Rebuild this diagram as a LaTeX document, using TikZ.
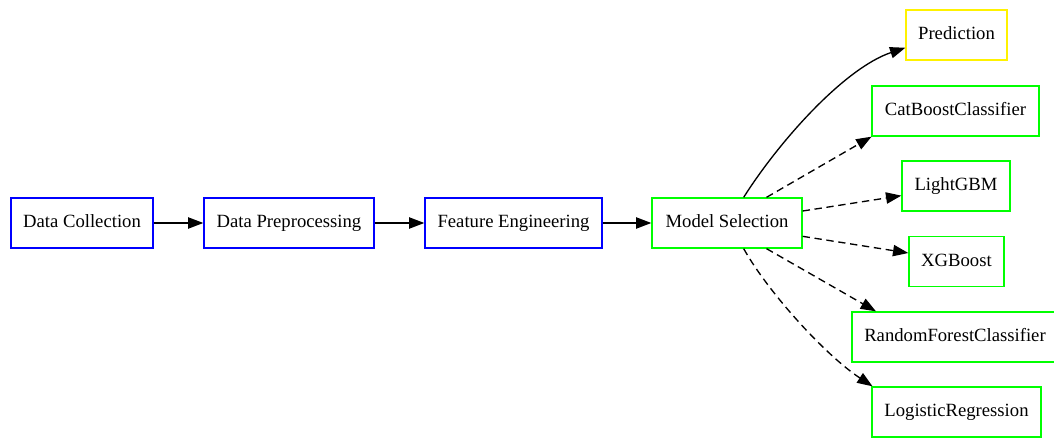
\documentclass[tikz,border=0pt]{standalone}
\usepackage{fontspec}
\setmainfont{Liberation Serif}
\usetikzlibrary{arrows.meta}
\begin{document}
\begin{tikzpicture}[x=0.75pt,y=-0.75pt,
  box/.style={draw, line width=1pt, inner sep=0pt, minimum height=37.5pt, text height=10pt, text depth=3pt, font=\fontsize{14pt}{16pt}\selectfont},
  bluebox/.style={box, draw=blue},
  greenbox/.style={box, draw=green},
  yellowbox/.style={box, draw=yellow},
  arr/.style={line width=1pt, -{Triangle[length=11.5pt,width=8.5pt]}},
  darr/.style={arr, dash pattern=on 5.5pt off 3.5pt}]
\clip (0,0) rectangle (1054,438);
\node[bluebox, minimum width=106.5pt] (dc) at (82,223) {Data Collection};
\node[bluebox, minimum width=127.5pt] (dp) at (289,223) {Data Preprocessing};
\node[bluebox, minimum width=132.75pt] (fe) at (513.5,223) {Feature Engineering};
\node[greenbox, minimum width=112.5pt] (ms) at (727,223) {Model Selection};
\node[yellowbox, minimum width=75.75pt] (pr) at (956.5,35) {Prediction};
\node[greenbox, minimum width=125.25pt] (cb) at (955.5,111) {CatBoostClassifier};
\node[greenbox, minimum width=81pt] (lg) at (956,186) {LightGBM};
\node[greenbox, minimum width=71.25pt] (xg) at (956.5,261.5) {XGBoost};
\node[greenbox, minimum width=154.5pt] (rf) at (955,337) {RandomForestClassifier};
\node[greenbox, minimum width=126.75pt] (lr) at (956.5,412) {LogisticRegression};
\draw[arr] (dc) -- (dp);
\draw[arr] (dp) -- (fe);
\draw[arr] (fe) -- (ms);
\draw[arr] (ms.57) .. controls (780,140) and (845,68) .. (pr.194);
\draw[darr] (ms.33) -- (cb.197);
\draw[darr] (ms.9) -- (lg.190);
\draw[darr] (ms.-10) -- (xg.170);
\draw[darr] (ms.-33) -- (rf.162);
\draw[darr] (ms.-57) .. controls (768,292) and (825,355) .. (lr.163);
\end{tikzpicture}
\end{document}
